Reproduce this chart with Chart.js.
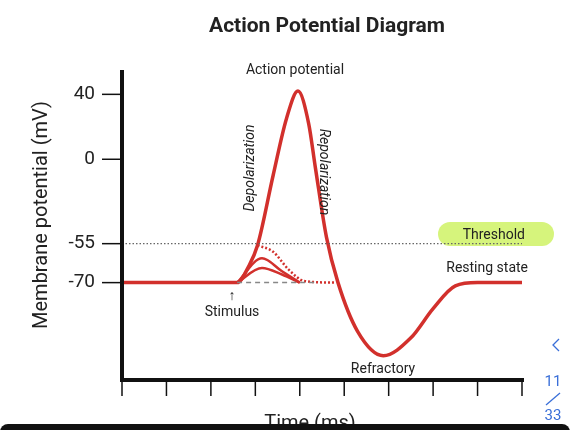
<!DOCTYPE html>
<html>
<head>
<meta charset="utf-8">
<script src="https://cdn.jsdelivr.net/npm/chart.js@4/dist/chart.umd.min.js"></script>
<style>
  html, body { margin: 0; padding: 0; background: #fff; overflow: hidden; }
  #wrap { position: relative; width: 570px; height: 430px; }
  #bar { position: absolute; left: 0; right: 0; top: 424px; height: 12px; background: #111; border-radius: 8px 8px 0 0; }
</style>
</head>
<body>
<div id="wrap">
  <canvas id="ap" width="570" height="430"></canvas>
  <div id="bar"></div>
</div>
<script>
// y values are diagram units (the picture's axis is not to scale)
const yTickValues = [40, 0, -52, -76];
const yTickLabels = ['40', '0', '-55', '-70'];
const xTicks = [0, 1, 2, 3, 4, 5, 6, 7, 8, 9];

const actionX = [0, 2.59, 2.85, 3.05, 3.4, 3.7, 3.96, 4.2, 4.35, 4.6, 4.86, 5.3, 5.88, 6.5, 7.0, 7.5, 8.0, 9.05];
const actionY = [-76, -76, -66, -53, -10, 25, 42, 22, -5, -48, -76, -106, -121, -110, -92, -78, -76, -76];

const bumpLowX = [2.59, 3.15, 3.6, 4.0];
const bumpLowY = [-76, -67, -71, -76];
const bumpMidX = [2.59, 3.15, 3.6, 4.0];
const bumpMidY = [-76, -61, -69, -76];
const bumpHighX = [3.05, 3.4, 3.75, 4.1, 4.8];
const bumpHighY = [-53, -57, -68, -75, -76];

const thresholdX = [0, 9.05];
const thresholdY = [-52, -52];
const restX = [2.59, 4.4];
const restY = [-76, -76];

const pts = (xs, ys) => xs.map((x, i) => ({ x: x, y: ys[i] }));
const RED = '#d2302c';

const decor = {
  id: 'decor',
  beforeDatasetsDraw(chart) {
    const c = chart.ctx;
    c.save();
    c.fillStyle = 'rgba(200,240,80,0.75)';
    c.beginPath();
    c.roundRect(438, 222, 116, 24, 12);
    c.fill();
    c.restore();
  },
  afterDatasetsDraw(chart) {
    const c = chart.ctx, x = chart.scales.x, y = chart.scales.y;
    const L = x.getPixelForValue(0), R = x.getPixelForValue(9);
    const T = chart.chartArea.top, B = y.getPixelForValue(-136);
    c.save();
    c.strokeStyle = '#111';
    c.lineWidth = 4;
    c.beginPath();
    c.moveTo(L, T); c.lineTo(L, B); c.lineTo(R + 2, B);
    c.stroke();
    c.lineWidth = 1.5;
    xTicks.forEach(v => {
      const px = x.getPixelForValue(v);
      c.beginPath(); c.moveTo(px, B); c.lineTo(px, B + 16); c.stroke();
    });
    c.font = '19px Roboto';
    c.fillStyle = '#222';
    c.textAlign = 'right'; c.textBaseline = 'middle';
    yTickValues.forEach((v, i) => {
      const py = y.getPixelForValue(v);
      c.beginPath(); c.moveTo(L - 20, py); c.lineTo(L, py); c.stroke();
      c.fillText(yTickLabels[i], L - 27, py);
    });
    c.font = '14px Roboto';
    c.textAlign = 'center';
    c.fillText('Action potential', 295, 70);
    c.fillText('Refractory', 383, 369);
    c.fillText('Stimulus', 232, 312);
    c.fillText('↑', 232, 296);
    c.textAlign = 'right';
    c.fillText('Threshold', 525, 235);
    c.fillText('Resting state', 528, 268);
    c.font = 'italic 14px Roboto';
    c.save(); c.translate(250, 168); c.rotate(-Math.PI / 2);
    c.textAlign = 'center'; c.fillText('Depolarization', 0, 0); c.restore();
    c.save(); c.translate(323, 172); c.rotate(Math.PI / 2);
    c.textAlign = 'center'; c.fillText('Repolarization', 0, 0); c.restore();
    c.textAlign = 'center';
    c.font = 'bold 21px Roboto';
    c.fillText('Action Potential Diagram', 327, 27);
    c.font = '20px Roboto';
    c.fillText('Time (ms)', 310, 424);
    c.save(); c.translate(42, 215); c.rotate(-Math.PI / 2);
    c.fillText('Membrane potential (mV)', 0, 0); c.restore();
    c.fillStyle = '#3a6fd8';
    c.font = '15px Roboto';
    c.fillText('11', 553, 382);
    c.fillText('33', 553, 416);
    c.strokeStyle = '#3a6fd8'; c.lineWidth = 1.3;
    c.beginPath(); c.moveTo(546, 405); c.lineTo(560, 393); c.stroke();
    c.beginPath(); c.moveTo(559, 339); c.lineTo(553, 345); c.lineTo(559, 351); c.stroke();
    c.restore();
  }
};

new Chart(document.getElementById('ap'), {
  type: 'line',
  data: {
    datasets: [
      { data: pts(thresholdX, thresholdY), borderColor: '#666', borderWidth: 1.3, borderDash: [1.5, 2], tension: 0 },
      { data: pts(restX, restY), borderColor: '#888', borderWidth: 1.5, borderDash: [5, 4], tension: 0 },
      { data: pts(bumpLowX, bumpLowY), borderColor: RED, borderWidth: 2.5, cubicInterpolationMode: 'monotone' },
      { data: pts(bumpMidX, bumpMidY), borderColor: RED, borderWidth: 2.5, cubicInterpolationMode: 'monotone' },
      { data: pts(bumpHighX, bumpHighY), borderColor: RED, borderWidth: 2.5, borderDash: [2, 2], cubicInterpolationMode: 'monotone' },
      { data: pts(actionX, actionY), borderColor: RED, borderWidth: 3.5, cubicInterpolationMode: 'monotone' }
    ]
  },
  options: {
    responsive: false,
    animation: false,
    elements: { point: { radius: 0 } },
    layout: { padding: { left: 122, right: 48, top: 70, bottom: 50 } },
    plugins: { legend: { display: false }, tooltip: { enabled: false } },
    scales: {
      x: { type: 'linear', min: 0, max: 9, display: false },
      y: { type: 'linear', min: -136, max: 55, display: false }
    }
  },
  plugins: [decor]
});
</script>
</body>
</html>
